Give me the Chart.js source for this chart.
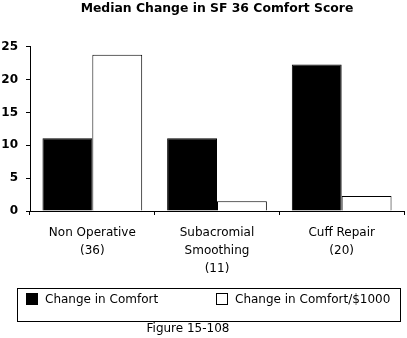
<!DOCTYPE html>
<html>
<head>
<meta charset="utf-8">
<script src="https://cdn.jsdelivr.net/npm/chart.js@4.4.1/dist/chart.umd.min.js"></script>
<style>
    html, body { margin: 0; padding: 0; background: #fff; }
    #wrap { width: 407px; height: 338px; position: relative; }
</style>
</head>
<body>
<div id="wrap"><canvas id="chart"></canvas></div>
<script>
const categories = [
    ['Non Operative', '(36)'],
    ['Subacromial', 'Smoothing', '(11)'],
    ['Cuff Repair', '(20)'],
];
const seriesNames = ['Change in Comfort', 'Change in Comfort/$1000'];
const comfortChange = [11.1, 11.1, 22.3];
const comfortPer1000 = [23.8, 1.5, 2.3];
const yMin = 0;
const yMax = 25;
const yStep = 5;
const titleText = 'Median Change in SF 36 Comfort Score';
const captionText = 'Figure 15-108';

const FONT = '"DejaVu Sans", Verdana, sans-serif';

// legend box + figure caption, drawn under the axis labels
const boxLegend = {
    id: 'boxLegend',
    afterDraw(chart) {
        const ctx = chart.ctx;
        ctx.save();
        ctx.strokeStyle = '#000';
        ctx.lineWidth = 1;
        ctx.strokeRect(17.5, 288.5, 383, 33);

        ctx.font = '12px ' + FONT;
        ctx.textBaseline = 'middle';
        ctx.textAlign = 'left';
        const slots = [26, 216];
        chart.data.datasets.forEach((ds, i) => {
            const x = slots[i];
            ctx.fillStyle = ds.backgroundColor;
            ctx.fillRect(x, 293, 12, 12);
            ctx.strokeRect(x + 0.5, 293.5, 11, 11);
            ctx.fillStyle = '#000';
            ctx.fillText(ds.label, x + 19, 300);
        });

        ctx.textAlign = 'center';
        ctx.fillText(captionText, 188, 329);
        ctx.restore();
    },
};

new Chart(document.getElementById('chart'), {
    type: 'bar',
    data: {
        labels: categories,
        datasets: [
            {
                label: seriesNames[0],
                data: comfortChange,
                backgroundColor: '#000',
                borderColor: '#000',
                borderWidth: 1,
            },
            {
                label: seriesNames[1],
                data: comfortPer1000,
                backgroundColor: '#fff',
                borderColor: '#000',
                borderWidth: 1,
            },
        ],
    },
    options: {
        responsive: true,
        maintainAspectRatio: false,
        animation: false,
        categoryPercentage: 0.8,
        barPercentage: 1.0,
        layout: {
            padding: { left: 0, right: 3, top: 0, bottom: 0 },
        },
        plugins: {
            legend: { display: false },
            tooltip: { enabled: false },
            title: {
                display: true,
                fullSize: false,
                text: titleText,
                color: '#000',
                font: { family: FONT, size: 12.4, weight: 'bold' },
                padding: { top: 1, bottom: 31 },
            },
        },
        scales: {
            x: {
                offset: true,
                grid: {
                    display: true,
                    offset: true,
                    drawOnChartArea: false,
                    drawTicks: true,
                    tickLength: 4,
                    color: '#000',
                },
                border: { display: true, color: '#000', width: 1 },
                ticks: {
                    color: '#000',
                    padding: 9,
                    font: { family: FONT, size: 12, lineHeight: 1.5 },
                    maxRotation: 0,
                    autoSkip: false,
                },
                afterFit(scale) {
                    scale.height = 127;
                },
            },
            y: {
                min: yMin,
                max: yMax,
                grid: {
                    display: true,
                    drawOnChartArea: false,
                    drawTicks: true,
                    tickLength: 4,
                    color: '#000',
                },
                border: { display: true, color: '#000', width: 1 },
                ticks: {
                    stepSize: yStep,
                    color: '#000',
                    padding: 8,
                    font: { family: FONT, size: 12, weight: 'bold' },
                },
                afterFit(scale) {
                    scale.width = 30;
                },
            },
        },
    },
    plugins: [boxLegend],
});
</script>
</body>
</html>
